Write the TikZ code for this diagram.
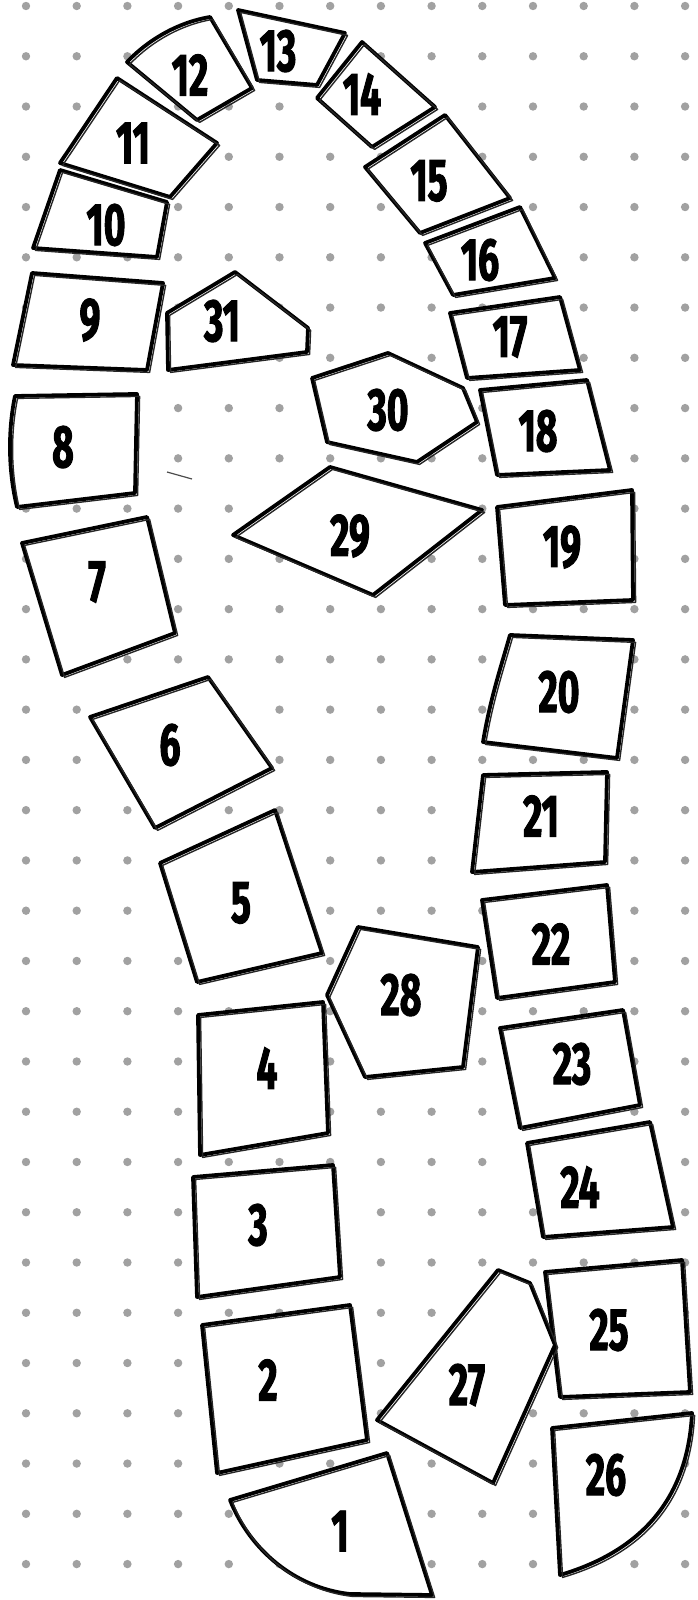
\documentclass[tikz,border=0pt]{standalone}
\usepackage{fontspec}
\newfontfamily\numfont[FakeStretch=0.62,FakeBold=1.6]{Fira Sans}
\tikzset{
  tile/.style={draw=black, fill=white, line width=3.8pt, line join=round},
  sketchline/.style={draw=black!85, line width=1.4pt, line join=round},
  lbl/.style={font=\numfont\bfseries\fontsize{60}{60}\selectfont, inner sep=0pt},
  dotmark/.style={fill=black!37, draw=none}
}
\newcommand\Tile[3]{%
  \draw[tile] #1;
  \draw[sketchline, xshift=2.6pt, yshift=-2.4pt] #1;
  \node[lbl] (t#2) at #3 {#2};}
\begin{document}
\begin{tikzpicture}[x=1pt,y=-1pt]
\useasboundingbox (0,0) rectangle (697,1600);
\fill[white] (0,0) rectangle (697,1600);
% dot grid
\foreach \i in {0,...,13}{
  \foreach \j in {0,...,31}{
    \fill[dotmark] ({26+50.7*\i},{6+50.26*\j}) circle (4.2);
  }}
% stray pencil mark
\draw[line width=1.2pt, black!70] (167,472) -- (192,479);
% tiles
\Tile{(230,1500) -- (387,1453) -- (432,1595) -- (350,1594) .. controls (295,1588) and (250,1550) .. cycle}{1}{(340,1531)}
\Tile{(202,1325) -- (350,1305) -- (367,1440) -- (217,1473) -- cycle}{2}{(268,1380)}
\Tile{(193,1177) -- (333,1165) -- (340,1277) -- (197,1297) -- cycle}{3}{(258,1225)}
\Tile{(198,1015) -- (323,1002) -- (328,1133) -- (200,1155) -- cycle}{4}{(267,1068)}
\Tile{(160,863) -- (275,810) -- (322,953) -- (197,982) -- cycle}{5}{(241,903)}
\Tile{(90,717) -- (208,677) -- (272,768) -- (155,828) -- cycle}{6}{(170,745)}
\Tile{(22,543) -- (147,517) -- (175,633) -- (62,675) -- cycle}{7}{(97,582)}
\Tile{(15,396) -- (137,394) -- (135,493) -- (17,507) .. controls (8,470) and (8,430) .. cycle}{8}{(63,447)}
\Tile{(32,273) -- (163,283) -- (147,370) -- (13,365) -- cycle}{9}{(90,320)}
\Tile{(60,170) -- (167,202) -- (157,257) -- (33,248) -- cycle}{10}{(106,225)}
\Tile{(117,78) -- (217,143) -- (170,197) -- (60,163) -- cycle}{11}{(133,143)}
\Tile{(127,62) .. controls (150,38) and (180,22) .. (210,17) -- (252,88) -- (197,120) -- cycle}{12}{(190,75)}
\Tile{(238,10) -- (345,33) -- (317,85) -- (257,80) -- cycle}{13}{(278,51)}
\Tile{(362,42) -- (435,107) -- (372,147) -- (317,98) -- cycle}{14}{(362,94)}
\Tile{(365,167) -- (445,115) -- (510,198) -- (420,233) -- cycle}{15}{(429,181)}
\Tile{(425,243) -- (520,207) -- (555,278) -- (453,295) -- cycle}{16}{(480,260)}
\Tile{(450,313) -- (560,297) -- (580,370) -- (467,378) -- cycle}{17}{(510,337)}
\Tile{(480,390) -- (587,380) -- (610,470) -- (497,475) -- cycle}{18}{(538,431)}
\Tile{(497,507) -- (632,490) -- (633,600) -- (505,605) -- cycle}{19}{(562,547)}
\Tile{(510,635) -- (633,640) -- (617,758) -- (483,742) .. controls (490,700) and (500,670) .. cycle}{20}{(559,692)}
\Tile{(483,775) -- (607,772) -- (605,862) -- (472,872) -- cycle}{21}{(541,816)}
\Tile{(482,900) -- (607,885) -- (615,982) -- (497,998) -- cycle}{22}{(551,944)}
\Tile{(500,1028) -- (623,1010) -- (640,1105) -- (520,1128) -- cycle}{23}{(572,1064)}
\Tile{(527,1143) -- (650,1122) -- (673,1227) -- (543,1237) -- cycle}{24}{(580,1187)}
\Tile{(545,1272) -- (682,1260) -- (690,1392) -- (560,1397) -- cycle}{25}{(609,1330)}
\Tile{(552,1428) -- (692,1413) .. controls (688,1495) and (645,1550) .. (560,1575) -- cycle}{26}{(606,1475)}
\Tile{(498,1270) -- (530,1283) -- (555,1345) -- (493,1483) -- (377,1420) -- cycle}{27}{(467,1385)}
\Tile{(358,927) -- (478,947) -- (463,1067) -- (365,1077) -- (327,995) -- cycle}{28}{(401,995)}
\Tile{(330,467) -- (482,510) -- (373,595) -- (233,535) -- cycle}{29}{(350,536)}
\Tile{(312,378) -- (388,353) -- (463,388) -- (477,422) -- (417,462) -- (327,442) -- cycle}{30}{(388,410)}
\Tile{(167,313) -- (235,272) -- (308,328) -- (307,352) -- (168,370) -- cycle}{31}{(222,321)}
\end{tikzpicture}
\end{document}
